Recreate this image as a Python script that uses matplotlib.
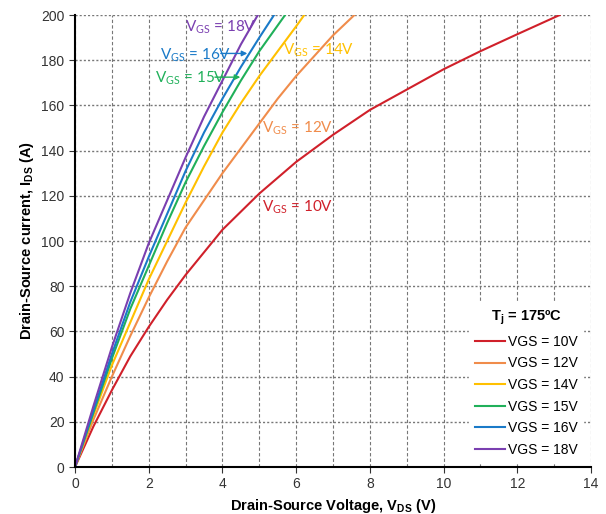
import matplotlib
matplotlib.use("Agg")
import matplotlib.pyplot as plt

# Данные кривых
vds_10 = [0, 0.5, 1, 1.5, 2, 2.5, 3, 3.5, 4, 4.5, 5, 6, 7, 8, 9, 10, 11, 12, 13.15]
ids_10 = [0, 18, 34, 49, 62, 74, 85, 95, 105, 113, 121, 135, 147, 158, 167, 176, 184, 191.5, 200]
vds_12 = [0, 0.5, 1, 1.5, 2, 2.5, 3, 3.5, 4, 4.5, 5, 5.5, 6, 6.5, 7, 7.58]
ids_12 = [0, 21, 40, 58, 75, 91, 106, 118, 130, 141, 152, 163, 173, 182, 191, 200]
vds_14 = [0, 0.5, 1, 1.5, 2, 2.5, 3, 3.5, 4, 4.5, 5, 5.5, 6, 6.22]
ids_14 = [0, 23, 45, 64, 83, 100, 117, 133, 148, 161, 173, 184, 195, 200]
vds_15 = [0, 0.5, 1, 1.5, 2, 2.5, 3, 3.5, 4, 4.5, 5, 5.7]
ids_15 = [0, 24, 48, 70, 89, 108, 126, 142, 157, 171, 184, 200]
vds_16 = [0, 0.5, 1, 1.5, 2, 2.5, 3, 3.5, 4, 4.5, 5, 5.4]
ids_16 = [0, 25, 50, 73, 93, 112, 131, 148, 163, 177, 190, 200]
vds_18 = [0, 0.5, 1, 1.5, 2, 2.5, 3, 3.5, 4, 4.5, 4.96]
ids_18 = [0, 27, 53, 77, 99, 118, 137, 155, 171, 187, 200]

labels = ["VGS = 10V", "VGS = 12V", "VGS = 14V", "VGS = 15V", "VGS = 16V", "VGS = 18V"]
colors = ["#D0202A", "#F08C4B", "#FFC000", "#20B05A", "#1A7AC8", "#7A3FB0"]
curves = [(vds_10, ids_10), (vds_12, ids_12), (vds_14, ids_14),
          (vds_15, ids_15), (vds_16, ids_16), (vds_18, ids_18)]

plt.rcParams['font.family'] = ['Liberation Sans', 'DejaVu Sans']

fig = plt.figure(figsize=(6.06, 5.14), dpi=100)
ax = fig.add_axes([0.1238, 0.0914, 0.8515, 0.8794])

for (x, y), c, lab in zip(curves, colors, labels):
    ax.plot(x, y, color=c, lw=1.5, label=lab)

ax.set_xlim(0, 14)
ax.set_ylim(0, 200)
ax.set_xticks(range(0, 15, 2))
ax.set_xticks(range(0, 15), minor=True)
ax.set_yticks(range(0, 201, 20))
ax.grid(True, which='major', axis='y', color='#777777', ls=(0, (1.5, 1.5)), lw=1)
ax.grid(True, which='both', axis='x', color='#777777', ls=(0, (3, 2)), lw=0.8)
for s in ['top', 'right']:
    ax.spines[s].set_visible(False)
for s in ['left', 'bottom']:
    ax.spines[s].set_linewidth(1.5)
ax.tick_params(labelsize=10, colors='#333333', length=4)
ax.tick_params(which='minor', length=0)

ax.set_xlabel("Drain-Source Voltage, V$_\\mathregular{DS}$ (V)", fontsize=10.5, fontweight='bold')
ax.set_ylabel("Drain-Source current, I$_\\mathregular{DS}$ (A)", fontsize=10.5, fontweight='bold')

# Подписи кривых
fa = ['Lato', 'DejaVu Sans']
ax.text(2.98, 194.5, "V$_\\mathregular{GS}$ = 18V", color=colors[5], fontsize=11, family=fa, va='center')
ax.text(2.31, 182.3, "V$_\\mathregular{GS}$ = 16V", color=colors[4], fontsize=11, family=fa, va='center')
ax.text(2.17, 172, "V$_\\mathregular{GS}$ = 15V", color=colors[3], fontsize=11, family=fa, va='center')
ax.text(5.64, 184.5, "V$_\\mathregular{GS}$ = 14V", color=colors[2], fontsize=11, family=fa, va='center')
ax.text(5.07, 150, "V$_\\mathregular{GS}$ = 12V", color=colors[1], fontsize=11, family=fa, va='center')
ax.text(5.07, 115, "V$_\\mathregular{GS}$ = 10V", color=colors[0], fontsize=11, family=fa, va='center')
ax.annotate("", xy=(4.75, 183), xytext=(3.88, 183),
            arrowprops=dict(arrowstyle='-|>', color=colors[4], lw=1, mutation_scale=8))
ax.annotate("", xy=(4.56, 172.5), xytext=(3.72, 172.5),
            arrowprops=dict(arrowstyle='-|>', color=colors[3], lw=1, mutation_scale=8))

leg = ax.legend(loc='lower right', bbox_to_anchor=(0.985, 0.01), fontsize=10,
                title="T$_\\mathregular{j}$ = 175ºC", frameon=True, fancybox=False,
                edgecolor='white', framealpha=1, handlelength=2.2, handletextpad=0.2,
                labelspacing=0.55, borderaxespad=0)
leg.get_title().set_fontweight('bold')
leg.get_title().set_fontsize(10.5)

fig.savefig("out.png", dpi=100)
